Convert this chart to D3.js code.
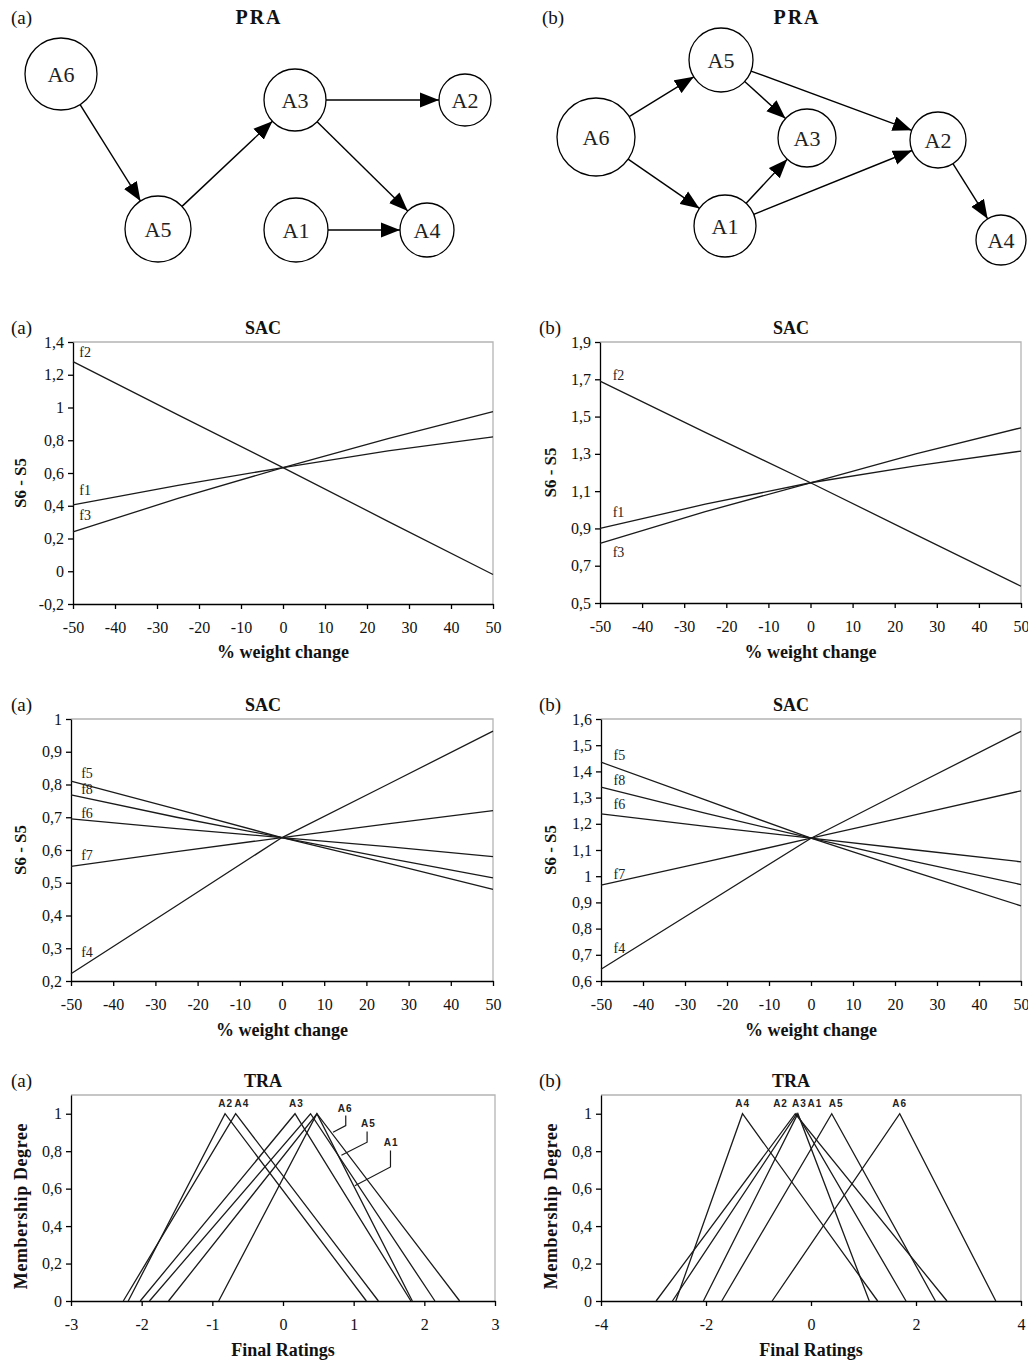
<!DOCTYPE html>
<html><head><meta charset="utf-8">
<script src="https://cdn.jsdelivr.net/npm/d3@7"></script>
<style>body{margin:0;background:#fff}svg{display:block}</style>
</head><body>
<script>
// ================= DATA =================
// SAC: % weight change (x) and S6 - S5 values
const weightChange = [-50, -25, 0, 25, 50];
const weightTicks = [-50, -40, -30, -20, -10, 0, 10, 20, 30, 40, 50];

// SAC top (a)
const sacTopA_names = ["f1", "f2", "f3"];
const sacTopA_f1 = [0.405, 0.525, 0.633, 0.735, 0.82];
const sacTopA_f2 = [1.28, 0.955, 0.633, 0.305, -0.02];
const sacTopA_f3 = [0.24, 0.445, 0.633, 0.81, 0.975];
const sacTopA_yTicks = [-0.2, 0, 0.2, 0.4, 0.6, 0.8, 1, 1.2, 1.4];
// SAC top (b)
const sacTopB_names = ["f1", "f2", "f3"];
const sacTopB_f1 = [0.90, 1.03, 1.145, 1.235, 1.315];
const sacTopB_f2 = [1.69, 1.415, 1.145, 0.867, 0.59];
const sacTopB_f3 = [0.82, 0.99, 1.145, 1.30, 1.44];
const sacTopB_yTicks = [0.5, 0.7, 0.9, 1.1, 1.3, 1.5, 1.7, 1.9];
// SAC middle (a)
const sacMidA_names = ["f4", "f5", "f6", "f7", "f8"];
const sacMidA_f4 = [0.222, 0.43, 0.638, 0.80, 0.963];
const sacMidA_f5 = [0.81, 0.725, 0.638, 0.56, 0.48];
const sacMidA_f6 = [0.695, 0.665, 0.638, 0.61, 0.58];
const sacMidA_f7 = [0.55, 0.595, 0.638, 0.68, 0.72];
const sacMidA_f8 = [0.768, 0.70, 0.638, 0.575, 0.515];
const sacMidA_yTicks = [0.2, 0.3, 0.4, 0.5, 0.6, 0.7, 0.8, 0.9, 1];
// SAC middle (b)
const sacMidB_names = ["f4", "f5", "f6", "f7", "f8"];
const sacMidB_f4 = [0.645, 0.895, 1.145, 1.35, 1.553];
const sacMidB_f5 = [1.435, 1.29, 1.145, 1.015, 0.887];
const sacMidB_f6 = [1.238, 1.19, 1.145, 1.10, 1.055];
const sacMidB_f7 = [0.966, 1.055, 1.145, 1.235, 1.326];
const sacMidB_f8 = [1.34, 1.24, 1.145, 1.055, 0.968];
const sacMidB_yTicks = [0.6, 0.7, 0.8, 0.9, 1, 1.1, 1.2, 1.3, 1.4, 1.5, 1.6];

// TRA: triangular fuzzy final ratings (left, peak, right)
const alternatives = ["A1", "A2", "A3", "A4", "A5", "A6"];
const traA_left  = [-0.91, -2.19, -2.02, -2.26, -1.89, -1.62];
const traA_peak  = [0.48, -0.82, 0.17, -0.67, 0.39, 0.48];
const traA_right = [1.83, 1.18, 1.81, 1.35, 2.15, 2.50];
const traA_xTicks = [-3, -2, -1, 0, 1, 2, 3];
const traB_left  = [-2.05, -2.95, -2.64, -2.575, -1.70, -0.74];
const traB_peak  = [-0.25, -0.30, -0.27, -1.305, 0.395, 1.69];
const traB_right = [1.11, 2.59, 1.81, 1.27, 2.37, 3.52];
const traB_xTicks = [-4, -2, 0, 2, 4];
const traYTicks = [0, 0.2, 0.4, 0.6, 0.8, 1];

// PRA: preference relations (outranking graph)
const praA_nodes = ["A6", "A5", "A3", "A2", "A1", "A4"];
const praA_edges = [["A6","A5"], ["A5","A3"], ["A3","A2"], ["A3","A4"], ["A1","A4"]];
const praB_nodes = ["A6", "A5", "A1", "A3", "A2", "A4"];
const praB_edges = [["A6","A5"], ["A6","A1"], ["A5","A3"], ["A5","A2"], ["A1","A3"], ["A1","A2"], ["A2","A4"]];

// ================= LAYOUT (positions only) =================
const praA_layout = {A6:[61,74,36], A5:[158,229,33], A3:[295,100,31], A2:[465,100,26], A1:[296,230,32], A4:[427,230,27]};
const praB_layout = {A6:[596,137,39], A5:[721,60,32], A3:[807,138,29], A2:[938,140,28], A1:[725,226,31], A4:[1001,240,25]};

const SERIF = "'Liberation Serif','Times New Roman',serif";
const SANS = "'Liberation Sans',Arial,sans-serif";
const loc = d3.formatLocale({decimal: ",", thousands: ".", grouping: [3], currency: ["", ""], minus: "-"});
const fmt = loc.format(".2~f");

const svg = d3.select("body").append("svg").attr("width", 1028).attr("height", 1363);

function txt(x, y, t, size, opts = {}) {
  const e = svg.append("text").attr("x", x).attr("y", y).attr("font-family", opts.family || SERIF)
    .attr("font-size", size).attr("fill", "#111").text(t);
  if (opts.bold) e.attr("font-weight", "bold");
  if (opts.anchor) e.attr("text-anchor", opts.anchor);
  if (opts.ls) e.attr("letter-spacing", opts.ls);
  if (opts.rotate) e.attr("transform", `rotate(-90,${x},${y})`);
  return e;
}

// ---------- PRA graphs ----------
const defs = svg.append("defs");
defs.append("marker").attr("id", "arr").attr("viewBox", "0 -8 19 16").attr("refX", 19).attr("refY", 0)
  .attr("markerWidth", 19).attr("markerHeight", 16).attr("markerUnits", "userSpaceOnUse").attr("orient", "auto")
  .append("path").attr("d", "M0,-7.5L19,0L0,7.5Z").attr("fill", "#000");

function drawGraph(nodes, edges, layout) {
  const s = d3.scaleLinear().domain([0, 1028]).range([0, 1028]);
  const g = svg.append("g");
  edges.forEach(([a, b]) => {
    const [x1, y1, r1] = layout[a], [x2, y2, r2] = layout[b];
    const dx = x2 - x1, dy = y2 - y1, L = Math.hypot(dx, dy);
    const ux = dx / L, uy = dy / L;
    g.append("line").attr("x1", s(x1 + ux * r1)).attr("y1", s(y1 + uy * r1))
      .attr("x2", s(x2 - ux * r2)).attr("y2", s(y2 - uy * r2))
      .attr("stroke", "#000").attr("stroke-width", 1.4).attr("marker-end", "url(#arr)");
  });
  nodes.forEach(n => {
    const [x, y, r] = layout[n];
    g.append("circle").attr("cx", s(x)).attr("cy", s(y)).attr("r", r).attr("fill", "#fff")
      .attr("stroke", "#000").attr("stroke-width", 1.3);
    g.append("text").attr("x", s(x)).attr("y", s(y)).attr("dy", "0.35em").attr("text-anchor", "middle")
      .attr("font-family", SERIF).attr("font-size", 22).attr("fill", "#222").text(n);
  });
}
txt(11, 24, "(a)", 19);
txt(259, 24, "PRA", 20, {bold: true, anchor: "middle", ls: 2});
drawGraph(praA_nodes, praA_edges, praA_layout);
txt(542, 24, "(b)", 19);
txt(797, 24, "PRA", 20, {bold: true, anchor: "middle", ls: 2});
drawGraph(praB_nodes, praB_edges, praB_layout);

// ---------- generic chart frame ----------
function makeChart(cfg) {
  const x = d3.scaleLinear().domain(cfg.xDomain).range([cfg.x0, cfg.x1]);
  const y = d3.scaleLinear().domain(cfg.yDomain).range([cfg.y1, cfg.y0]);
  const g = svg.append("g");
  g.append("path").attr("d", `M${cfg.x0},${cfg.y0}H${cfg.x1}V${cfg.y1}`).attr("fill", "none")
    .attr("stroke", "#b4b4b4").attr("stroke-width", 1.3);
  const gx = g.append("g").attr("transform", `translate(0,${cfg.y1})`)
    .call(d3.axisBottom(x).tickValues(cfg.xTicks).tickFormat(fmt).tickSize(5).tickSizeOuter(0).tickPadding(13));
  const gy = g.append("g").attr("transform", `translate(${cfg.x0},0)`)
    .call(d3.axisLeft(y).tickValues(cfg.yTicks).tickFormat(fmt).tickSize(5).tickSizeOuter(0).tickPadding(4));
  [gx, gy].forEach(a => {
    a.attr("font-family", SERIF).attr("font-size", 16);
    a.selectAll("path,line").attr("stroke", "#000").attr("stroke-width", 1.3);
    a.selectAll("text").attr("fill", "#111");
  });
  txt(cfg.letterX, cfg.titleY, cfg.letter, 19);
  txt(cfg.titleX, cfg.titleY, cfg.title, 18, {bold: true, anchor: "middle"});
  txt((cfg.x0 + cfg.x1) / 2, cfg.xTitleY, cfg.xTitle, 18, {bold: true, anchor: "middle"});
  const yt = txt(cfg.yTitleX, (cfg.y0 + cfg.y1) / 2 + (cfg.yTitleShift || 0), cfg.yTitle, cfg.yTitleSize || 17,
    {bold: true, anchor: "middle", rotate: true, ls: cfg.yTitleLs});
  yt.attr("dy", "0.35em");
  return {g, x, y};
}

// ---------- SAC charts ----------
function sacChart(cfg, names, seriesList, labelPos) {
  const {g, x, y} = makeChart(Object.assign({xDomain: [-50, 50], xTicks: weightTicks, title: "SAC",
    xTitle: "% weight change", yTitle: "S6 - S5"}, cfg));
  const line = d3.line().x((d, i) => x(weightChange[i])).y(d => y(d));
  seriesList.forEach((vals, k) => {
    g.append("path").datum(vals).attr("d", line).attr("fill", "none").attr("stroke", "#1a1a1a").attr("stroke-width", 1.3);
    g.append("text").attr("x", x(labelPos[k][0])).attr("y", y(labelPos[k][1])).attr("dy", "0.35em")
      .attr("font-family", SERIF).attr("font-size", 14).attr("fill", "#222").text(names[k]);
  });
}

sacChart({x0: 73, x1: 493, y0: 342, y1: 604, yDomain: [-0.2, 1.4], yTicks: sacTopA_yTicks,
  letter: "(a)", letterX: 11, titleX: 263, titleY: 334, xTitleY: 658, yTitleX: 20, yTitleShift: 10},
  sacTopA_names, [sacTopA_f1, sacTopA_f2, sacTopA_f3], [[-48.5, 0.496], [-48.5, 1.339], [-48.5, 0.343]]);
sacChart({x0: 600, x1: 1021, y0: 342, y1: 603, yDomain: [0.5, 1.9], yTicks: sacTopB_yTicks,
  letter: "(b)", letterX: 539, titleX: 791, titleY: 334, xTitleY: 658, yTitleX: 550},
  sacTopB_names, [sacTopB_f1, sacTopB_f2, sacTopB_f3], [[-47, 0.988], [-47, 1.723], [-47, 0.774]]);
sacChart({x0: 71, x1: 493, y0: 719, y1: 981, yDomain: [0.2, 1], yTicks: sacMidA_yTicks,
  letter: "(a)", letterX: 11, titleX: 263, titleY: 711, xTitleY: 1036, yTitleX: 20},
  sacMidA_names, [sacMidA_f4, sacMidA_f5, sacMidA_f6, sacMidA_f7, sacMidA_f8],
  [[-47.6, 0.289], [-47.6, 0.835], [-47.6, 0.713], [-47.6, 0.585], [-47.6, 0.786]]);
sacChart({x0: 601, x1: 1021, y0: 719, y1: 981, yDomain: [0.6, 1.6], yTicks: sacMidB_yTicks,
  letter: "(b)", letterX: 539, titleX: 791, titleY: 711, xTitleY: 1036, yTitleX: 550},
  sacMidB_names, [sacMidB_f4, sacMidB_f5, sacMidB_f6, sacMidB_f7, sacMidB_f8],
  [[-47, 0.726], [-47, 1.463], [-47, 1.275], [-47, 1.008], [-47, 1.367]]);

// ---------- TRA charts ----------
function traChart(cfg, left, peak, right, labels, leaders) {
  const {g, x, y} = makeChart(Object.assign({yDomain: [0, 1.1], yTicks: traYTicks, title: "TRA",
    xTitle: "Final Ratings", yTitle: "Membership Degree", yTitleShift: 8, yTitleSize: 18, yTitleLs: 0.6}, cfg));
  const line = d3.line().x(d => x(d[0])).y(d => y(d[1]));
  alternatives.forEach((a, i) => {
    g.append("path").datum([[left[i], 0], [peak[i], 1], [right[i], 0]]).attr("d", line)
      .attr("fill", "none").attr("stroke", "#1a1a1a").attr("stroke-width", 1.3);
  });
  labels.forEach(([t, lx, ly]) => {
    g.append("text").attr("x", x(lx)).attr("y", y(ly)).attr("dy", "0.35em").attr("text-anchor", "middle")
      .attr("font-family", SANS).attr("font-weight", "bold").attr("font-size", 10).attr("letter-spacing", 1)
      .attr("fill", "#222").text(t);
  });
  leaders.forEach(pts => {
    g.append("path").datum(pts).attr("d", line).attr("fill", "none").attr("stroke", "#1a1a1a").attr("stroke-width", 1.2);
  });
}

traChart({x0: 71, x1: 495, y0: 1095, y1: 1301, xDomain: [-3, 3], xTicks: traA_xTicks,
  letter: "(a)", letterX: 11, titleX: 263, titleY: 1087, xTitleY: 1356, yTitleX: 21},
  traA_left, traA_peak, traA_right,
  [["A2", -0.81, 1.055], ["A4", -0.58, 1.055], ["A3", 0.19, 1.055],
   ["A6", 0.88, 1.03], ["A5", 1.21, 0.948], ["A1", 1.53, 0.846]],
  [[[0.888, 0.99], [0.888, 0.937], [0.708, 0.901]],
   [[1.19, 0.905], [1.19, 0.848], [0.827, 0.778]],
   [[1.521, 0.803], [1.521, 0.716], [1.016, 0.615]]]);
traChart({x0: 601, x1: 1021, y0: 1095, y1: 1301, xDomain: [-4, 4], xTicks: traB_xTicks,
  letter: "(b)", letterX: 539, titleX: 791, titleY: 1087, xTitleY: 1356, yTitleX: 551},
  traB_left, traB_peak, traB_right,
  [["A4", -1.30, 1.055], ["A2", -0.58, 1.055], ["A3", -0.22, 1.055], ["A1", 0.075, 1.055],
   ["A5", 0.48, 1.055], ["A6", 1.69, 1.055]],
  []);
</script>
</body></html>
